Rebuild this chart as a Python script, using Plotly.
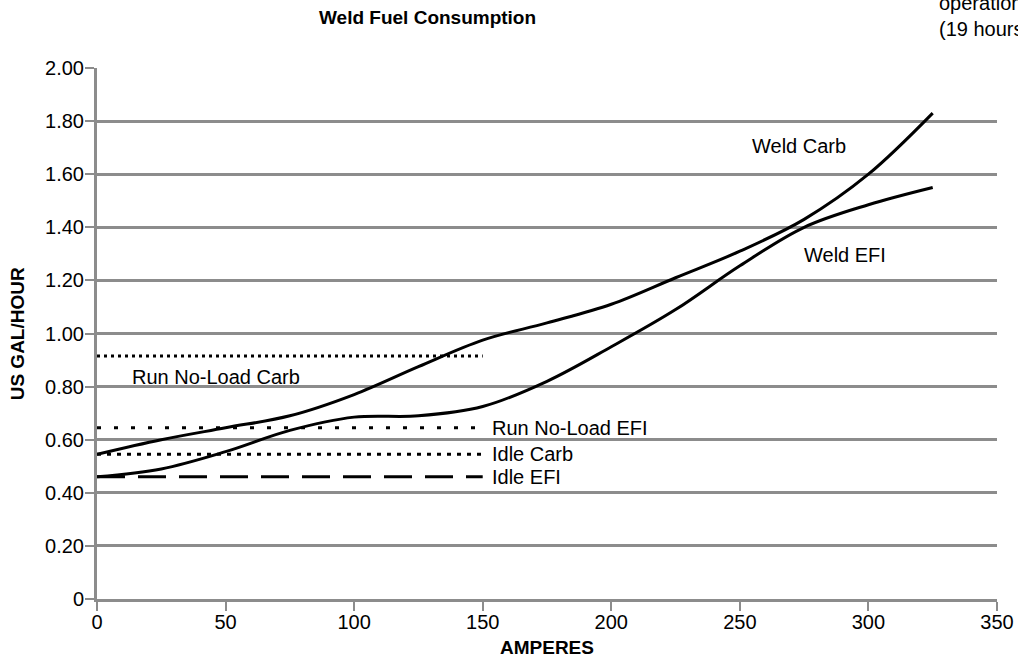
import plotly.graph_objects as go

amps = [0, 25, 50, 75, 100, 125, 150, 175, 200, 225, 250, 275, 300, 325]
weld_carb = [0.545, 0.60, 0.645, 0.69, 0.77, 0.875, 0.975, 1.04, 1.11, 1.21, 1.31, 1.43, 1.60, 1.83]
weld_efi = [0.46, 0.49, 0.555, 0.635, 0.685, 0.69, 0.725, 0.82, 0.95, 1.09, 1.255, 1.40, 1.485, 1.55]

flat_x = [0, 150]
run_noload_carb = 0.915
run_noload_efi = 0.645
idle_carb = 0.545
idle_efi = 0.46

y_ticks = [0, 0.2, 0.4, 0.6, 0.8, 1.0, 1.2, 1.4, 1.6, 1.8, 2.0]
y_labels = ["0", "0.20", "0.40", "0.60", "0.80", "1.00", "1.20", "1.40", "1.60", "1.80", "2.00"]
x_ticks = [0, 50, 100, 150, 200, 250, 300, 350]

font = "Liberation Sans, Arial, sans-serif"
grey = "#8c8c8c"

fig = go.Figure()

# flat reference lines
flats = [
    (run_noload_carb, "3px,4px"),
    (run_noload_efi, "4px,13px"),
    (idle_carb, "4px,6px"),
    (idle_efi, "28px,13px"),
]
for yv, dash in flats:
    fig.add_trace(go.Scatter(x=flat_x, y=[yv, yv], mode="lines",
                             line=dict(color="black", width=3, dash=dash),
                             hoverinfo="skip"))

fig.add_trace(go.Scatter(x=amps, y=weld_carb, mode="lines",
                         line=dict(color="black", width=3, shape="spline", smoothing=1.0)))
fig.add_trace(go.Scatter(x=amps, y=weld_efi, mode="lines",
                         line=dict(color="black", width=3, shape="spline", smoothing=1.0)))

labels = [
    (13, 0.836, "Run No-Load Carb", "left"),
    (153, run_noload_efi, "Run No-Load EFI", "left"),
    (153, idle_carb, "Idle Carb", "left"),
    (153, idle_efi, "Idle EFI", "left"),
    (273, 1.706, "Weld Carb", "center"),
    (291, 1.296, "Weld EFI", "center"),
]
for xv, yv, txt, al in labels:
    fig.add_annotation(x=xv, y=yv, text=txt, showarrow=False, xanchor=al,
                       yanchor="middle", font=dict(family=font, size=20, color="black"))

fig.add_annotation(xref="paper", yref="paper", x=0.367, y=1.096,
                   xanchor="center", yanchor="middle",
                   text="<b>Weld Fuel Consumption</b>", showarrow=False,
                   font=dict(family=font, size=19, color="black"))
fig.add_annotation(xref="paper", yref="paper", x=0.933, y=1.098, xanchor="left",
                   yanchor="middle", align="left", text="operation<br>(19 hours)",
                   showarrow=False, font=dict(family=font, size=20, color="black"))
fig.add_annotation(xref="paper", yref="paper", x=-0.088, y=0.5, textangle=-90,
                   xanchor="center", yanchor="middle",
                   text="<b>US GAL/HOUR</b>", showarrow=False,
                   font=dict(family=font, size=19, color="black"))
fig.add_annotation(xref="paper", yref="paper", x=0.5, y=-0.092,
                   xanchor="center", yanchor="middle",
                   text="<b>AMPERES</b>", showarrow=False,
                   font=dict(family=font, size=19, color="black"))

fig.update_layout(
    width=1018, height=670,
    margin=dict(l=97, r=21, t=68, b=71),
    plot_bgcolor="white", paper_bgcolor="white",
    showlegend=False,
    font=dict(family=font, size=20, color="black"),
    xaxis=dict(range=[0, 350], tickvals=x_ticks, showgrid=False, zeroline=False,
               showline=True, linecolor=grey, linewidth=3, automargin=False,
               ticks="outside", ticklen=9, tickwidth=2, tickcolor=grey,
               ticklabelstandoff=-6),
    yaxis=dict(range=[0, 2.0], tickvals=y_ticks, ticktext=y_labels,
               showgrid=True, gridcolor=grey, gridwidth=3, zeroline=False,
               showline=True, linecolor=grey, linewidth=3, automargin=False,
               ticks="outside", ticklen=9, tickwidth=2, tickcolor=grey,
               ticklabelstandoff=-3),
)

fig.write_html("out.html", config={"displayModeBar": False},
               post_script="document.body.style.margin='0';")
